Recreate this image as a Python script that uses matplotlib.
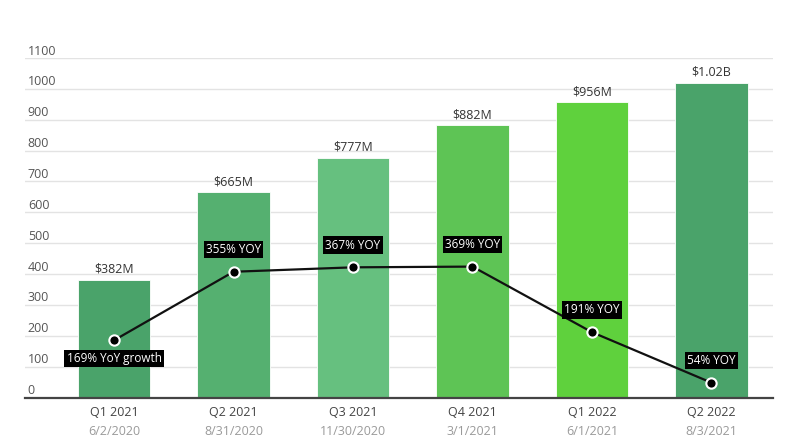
import matplotlib
matplotlib.use("Agg")
import matplotlib.pyplot as plt

quarters = ["Q1 2021", "Q2 2021", "Q3 2021", "Q4 2021", "Q1 2022", "Q2 2022"]
dates = ["6/2/2020", "8/31/2020", "11/30/2020", "3/1/2021", "6/1/2021", "8/3/2021"]
revenue = [382, 665, 777, 882, 956, 1020]
revenue_labels = ["$382M", "$665M", "$777M", "$882M", "$956M", "$1.02B"]
yoy = [169, 355, 367, 369, 191, 54]
yoy_labels = ["169% YoY growth", "355% YOY", "367% YOY", "369% YOY", "191% YOY", "54% YOY"]
bar_colors = ["#4aa36a", "#55b070", "#66c07f", "#5ec455", "#5fd13d", "#4aa36a"]
yticks = list(range(0, 1101, 100))

plt.rcParams["font.family"] = ["Open Sans", "DejaVu Sans"]

W, H = 796, 445
fig = plt.figure(figsize=(W / 100, H / 100), dpi=100)
left, right = 25, 773
top, bottom = 58, 397.5
ax = fig.add_axes([left / W, 1 - bottom / H, (right - left) / W, (bottom - top) / H])

x = list(range(len(quarters)))
ax.bar(x, revenue, width=0.61, color=bar_colors, edgecolor="#ffffff", linewidth=0.6, zorder=2)
ax.set_xlim(-0.745, 5.515)
ax.set_ylim(0, 1100)

for xi, v, lab in zip(x, revenue, revenue_labels):
    ax.annotate(lab, (xi, v), xytext=(0, 3), textcoords="offset points",
                ha="center", va="bottom", fontsize=9, color="#333333", zorder=5)

ax.set_yticks(yticks)
ax.set_yticklabels([])
ax.tick_params(axis="y", length=0)
for t in yticks:
    ax.axhline(t, color="#e3e3e3", linewidth=1, zorder=0)
    ax.annotate(str(t), (0, t), xycoords=("axes fraction", "data"), xytext=(2, 5),
                textcoords="offset points", ha="left", va="center",
                fontsize=9, color="#555555")

for s in ["top", "right", "left"]:
    ax.spines[s].set_visible(False)
ax.spines["bottom"].set_color("#444444")
ax.spines["bottom"].set_linewidth(1.6)
ax.spines["bottom"].set_zorder(6)

ax.set_xticks(x)
ax.set_xticklabels([])
ax.tick_params(axis="x", length=0)
for xi, q, d in zip(x, quarters, dates):
    ax.annotate(q, (xi, 0), xycoords=("data", "axes fraction"), xytext=(0, -6),
                textcoords="offset points", ha="center", va="top", fontsize=9, color="#444444")
    ax.annotate(d, (xi, 0), xycoords=("data", "axes fraction"), xytext=(0, -20),
                textcoords="offset points", ha="center", va="top", fontsize=9, color="#9a9a9a")

ax2 = ax.twinx()
ax2.set_ylim(13.8, 935)
ax2.set_yticks([])
for s in ["top", "right", "left", "bottom"]:
    ax2.spines[s].set_visible(False)
ax2.plot(x, yoy, color="#111111", linewidth=1.6, zorder=3)
ax2.scatter(x, yoy, s=55, color="#000000", edgecolors="#ffffff", linewidths=1.5, zorder=4)
for i, (xi, v, lab) in enumerate(zip(x, yoy, yoy_labels)):
    dy = -13 if i == 0 else 16
    ax2.annotate(lab, (xi, v), xytext=(0, dy), textcoords="offset points",
                 ha="center", va="center", fontsize=8.5, color="white", zorder=6,
                 bbox=dict(boxstyle="square,pad=0.18", fc="black", ec="none"))

fig.savefig("out.png", dpi=100)
